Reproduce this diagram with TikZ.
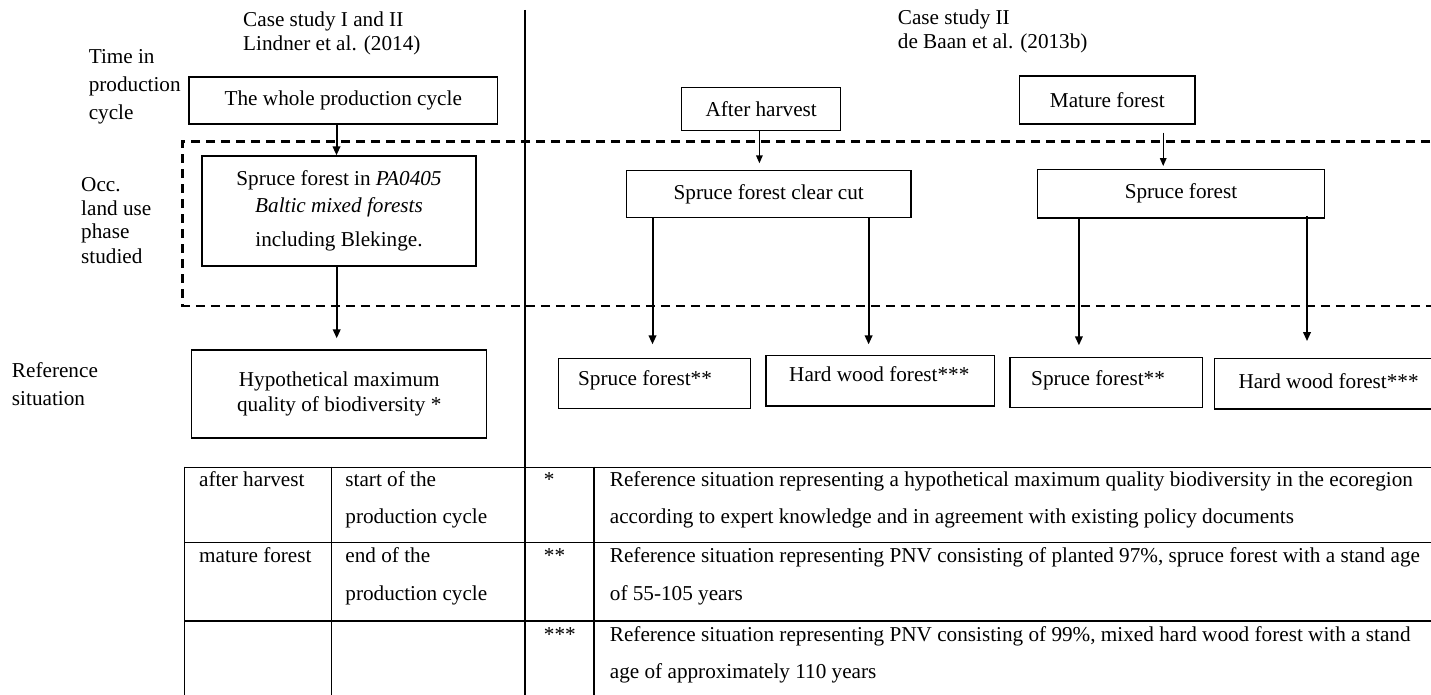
\documentclass[tikz,border=0pt]{standalone}
\usepackage{fontspec}
\setmainfont{Liberation Serif}
\usetikzlibrary{arrows.meta}

\begin{document}
\begin{tikzpicture}[x=1pt,y=-1pt,
  every node/.style={font=\fontsize{21.2}{24}\selectfont, inner sep=0pt},
  txt/.style={anchor=base west},
  box/.style={draw, rectangle, line width=1.3pt},
  arr/.style={-{Triangle[length=9pt,width=7.5pt]}, line width=2pt},
  thinarr/.style={-{Triangle[length=8pt,width=6.5pt]}, line width=1.4pt},
  dashrule/.style={line width=2.4pt, dash pattern=on 9pt off 6pt},
  tline/.style={line width=1.6pt},
  vline/.style={line width=1.3pt}]

\useasboundingbox (0,0) rectangle (1431,695);
\fill[white] (0,0) rectangle (1431,695);

% column headings
\node[txt] (h1a) at (243,26.7) {Case study I and II};
\node[txt] (h1b) at (243,50.7) {Lindner et al. (2014)};
\node[txt] (h2a) at (897.7,25) {Case study II};
\node[txt] (h2b) at (897.7,48.3) {de Baan et al. (2013b)};

% row labels
\node[txt] (t1) at (88.6,63.3) {Time in};
\node[txt] (t2) at (88.6,92) {production};
\node[txt] (t3) at (88.6,119.5) {cycle};
\node[txt] (o1) at (81,191.7) {Occ.};
\node[txt] (o2) at (81,215) {land use};
\node[txt] (o3) at (81,238.8) {phase};
\node[txt] (o4) at (81,263.3) {studied};
\node[txt] (s1) at (11.8,377.3) {Reference};
\node[txt] (s2) at (11.8,405.5) {situation};

% divider between the two studies
\draw[line width=1.1pt] (525,10) -- (525,467.3);

% occupation phase frame
\draw[dashrule] (1445,141.7) -- (182.6,141.7) -- (182.6,306) -- (1445,306);

% left study
\node[box, minimum width=308.6pt, minimum height=47pt] (whole) at (343.3,100.5) {The whole production cycle};
\node[box, minimum width=274pt, minimum height=110pt, align=center,
      font=\fontsize{21.2}{27}\selectfont] (pa) at (339,211)
  {Spruce forest in \textit{PA0405}\\ \textit{Baltic mixed forests}\\[7pt] including Blekinge.};
\node[box, minimum width=295pt, minimum height=88pt, align=center,
      font=\fontsize{21.2}{25}\selectfont] (hypo) at (339.3,394)
  {Hypothetical maximum\\quality of biodiversity *};

% right study
\node[box, minimum width=159pt, minimum height=43.4pt] (after) at (761.2,109) {After harvest};
\node[box, minimum width=175.4pt, minimum height=48pt] (mature) at (1107.3,100) {Mature forest};
\node[box, minimum width=284.4pt, minimum height=47pt] (clear) at (768.7,194.2) {Spruce forest clear cut};
\node[box, minimum width=286.6pt, minimum height=48.7pt] (spruce) at (1181,193.7) {Spruce forest};

% reference situations
\node[box, minimum width=192.4pt, minimum height=50pt] (r1) at (654.5,383.3) {};
\node[txt] (r1t) at (578,385) {Spruce forest**};
\node[box, minimum width=228.9pt, minimum height=50.3pt] (r2) at (880.3,380.9) {};
\node[txt] (r2t) at (789,381.7) {Hard wood forest***};
\node[box, minimum width=192.9pt, minimum height=50pt] (r3) at (1106.3,382.3) {};
\node[txt] (r3t) at (1031,385) {Spruce forest**};
\node[box, minimum width=230.7pt, minimum height=50.7pt] (r4) at (1329.7,383.7) {};
\node[txt] (r4t) at (1238.3,388.3) {Hard wood forest***};

% connectors
\draw[arr] ([xshift=-6.8pt]whole.south) -- ([xshift=-6.8pt]whole.south |- pa.north);
\draw[arr] ([xshift=-2.3pt]pa.south) -- ([xshift=-2.3pt,yshift=11pt]pa.south |- hypo.north);
\draw[thinarr] ([xshift=-1.8pt]after.south) -- ([xshift=-1.8pt,yshift=6.7pt]after.south |- clear.north);
\draw[thinarr] ([xshift=55.9pt,yshift=-8pt]mature.south) -- ([xshift=55.9pt,yshift=2.6pt]mature.south |- spruce.north);
\draw[arr] ([xshift=-116.2pt]clear.south) -- ([xshift=-116.2pt,yshift=13.3pt]clear.south |- r1.north);
\draw[arr] ([xshift=99.9pt]clear.south) -- ([xshift=99.9pt,yshift=10.7pt]clear.south |- r2.north);
\draw[arr] ([xshift=-102.1pt]spruce.south) -- ([xshift=-102.1pt,yshift=11.3pt]spruce.south |- r3.north);
\draw[arr] ([xshift=126pt,yshift=2.7pt]spruce.south) -- ([xshift=126pt,yshift=16.6pt]spruce.south |- r4.north);

% legend table
\draw[tline] (184.6,467.3) -- (1445,467.3);
\draw[tline] (184.6,542.5) -- (1445,542.5);
\draw[tline] (184.6,621) -- (1445,621);
\draw[vline] (184.6,466.5) -- (184.6,700);
\draw[vline] (331.3,466.5) -- (331.3,700);
\draw[vline] (525,466.5) -- (525,700);
\draw[vline] (593.9,466.5) -- (593.9,700);

\node[txt] (c11) at (198.9,486.5) {after harvest};
\node[txt] (c12) at (345.2,486.5) {start of the};
\node[txt] (c12b) at (345.2,523.5) {production cycle};
\node[txt] (c13) at (543.7,486.5) {*};
\node[txt] (c14) at (609.7,486.5) {Reference situation representing a hypothetical maximum quality biodiversity in the ecoregion};
\node[txt] (c14b) at (609.7,523.5) {according to expert knowledge and in agreement with existing policy documents};

\node[txt] (c21) at (198.9,562.5) {mature forest};
\node[txt] (c22) at (345.2,562.5) {end of the};
\node[txt] (c22b) at (345.2,600.5) {production cycle};
\node[txt] (c23) at (543.7,562.5) {**};
\node[txt] (c24) at (609.7,562.5) {Reference situation representing PNV consisting of planted 97\%, spruce forest with a stand age};
\node[txt] (c24b) at (609.7,600.5) {of 55-105 years};

\node[txt] (c33) at (543.7,641) {***};
\node[txt] (c34) at (609.7,641) {Reference situation representing PNV consisting of 99\%, mixed hard wood forest with a stand};
\node[txt] (c34b) at (609.7,678) {age of approximately 110 years};
\end{tikzpicture}
\end{document}
